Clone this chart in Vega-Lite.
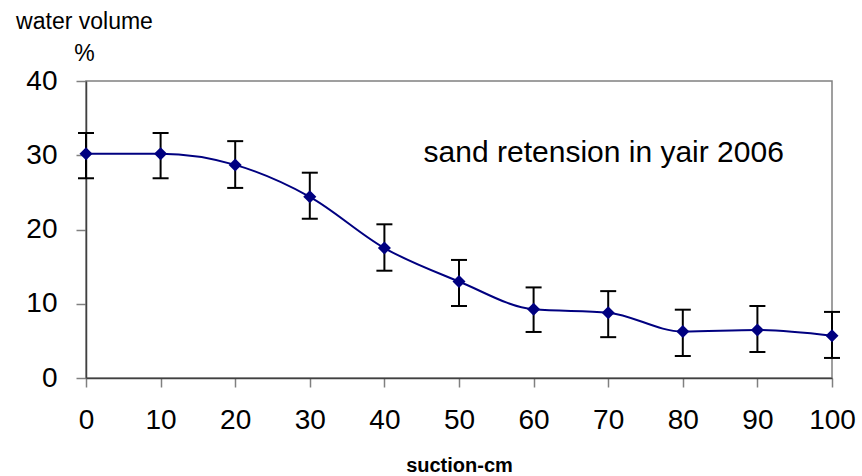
{
  "$schema": "https://vega.github.io/schema/vega-lite/v6.json",
  "width": 746,
  "height": 297,
  "autosize": {"type": "none"},
  "padding": {"left": 86, "top": 81, "right": 30, "bottom": 98},
  "background": "white",
  "config": {
    "font": "Liberation Sans",
    "view": {"stroke": "#808080", "strokeWidth": 1.5},
    "axis": {
      "grid": false,
      "domainColor": "#404040",
      "domainWidth": 1.5,
      "tickColor": "#808080",
      "tickWidth": 1.5,
      "labelFont": "Liberation Sans",
      "labelColor": "black",
      "titleColor": "black"
    }
  },
  "datasets": {
    "retention": [
      {"suction": 0, "water": 30.2, "lo": 26.9, "hi": 33.0},
      {"suction": 10, "water": 30.2, "lo": 26.9, "hi": 33.0},
      {"suction": 20, "water": 28.7, "lo": 25.6, "hi": 31.9},
      {"suction": 30, "water": 24.4, "lo": 21.45, "hi": 27.65},
      {"suction": 40, "water": 17.5, "lo": 14.45, "hi": 20.7},
      {"suction": 50, "water": 13.0, "lo": 9.7, "hi": 15.9},
      {"suction": 60, "water": 9.25, "lo": 6.2, "hi": 12.2},
      {"suction": 70, "water": 8.8, "lo": 5.5, "hi": 11.7},
      {"suction": 80, "water": 6.25, "lo": 2.96, "hi": 9.2},
      {"suction": 90, "water": 6.46, "lo": 3.5, "hi": 9.7},
      {"suction": 100, "water": 5.7, "lo": 2.7, "hi": 8.9}
    ],
    "note": [{"label": "sand retension in yair 2006", "suction": 69.4, "water": 29.1}]
  },
  "layer": [
    {
      "data": {"name": "retention"},
      "mark": {"type": "rule", "color": "black", "strokeWidth": 2},
      "encoding": {
        "x": {
          "field": "suction",
          "type": "quantitative",
          "scale": {"domain": [0, 100], "nice": false},
          "axis": {
            "values": [0, 10, 20, 30, 40, 50, 60, 70, 80, 90, 100],
            "title": "suction-cm",
            "titleFontSize": 20,
            "titleFontWeight": "bold",
            "titlePadding": 21,
            "labelFontSize": 28,
            "labelPadding": 19,
            "tickSize": 9,
            "labelFlush": false
          }
        },
        "y": {
          "field": "lo",
          "type": "quantitative",
          "scale": {"domain": [0, 40], "nice": false},
          "axis": {
            "values": [0, 10, 20, 30, 40],
            "title": ["water volume", "%"],
            "titleAngle": 0,
            "titleAlign": "center",
            "titleBaseline": "alphabetic",
            "titleX": -2,
            "titleY": -53,
            "titleFontSize": 23,
            "titleFontWeight": "normal",
            "titleLineHeight": 32,
            "labelFontSize": 28,
            "labelPadding": 19,
            "tickSize": 10,
            "labelFlush": false
          }
        },
        "y2": {"field": "hi"}
      }
    },
    {
      "data": {"name": "retention"},
      "mark": {"type": "tick", "orient": "horizontal", "color": "black", "size": 16, "thickness": 2, "opacity": 1},
      "encoding": {
        "x": {"field": "suction", "type": "quantitative"},
        "y": {"field": "lo", "type": "quantitative"}
      }
    },
    {
      "data": {"name": "retention"},
      "mark": {"type": "tick", "orient": "horizontal", "color": "black", "size": 16, "thickness": 2, "opacity": 1},
      "encoding": {
        "x": {"field": "suction", "type": "quantitative"},
        "y": {"field": "hi", "type": "quantitative"}
      }
    },
    {
      "data": {"name": "retention"},
      "mark": {"type": "line", "color": "#000080", "strokeWidth": 2, "interpolate": "monotone"},
      "encoding": {
        "x": {"field": "suction", "type": "quantitative"},
        "y": {"field": "water", "type": "quantitative"}
      }
    },
    {
      "data": {"name": "retention"},
      "mark": {"type": "point", "shape": "diamond", "filled": true, "color": "#000080", "size": 170, "opacity": 1},
      "encoding": {
        "x": {"field": "suction", "type": "quantitative"},
        "y": {"field": "water", "type": "quantitative"}
      }
    },
    {
      "data": {"name": "note"},
      "mark": {"type": "text", "fontSize": 30, "align": "center", "baseline": "alphabetic", "color": "black", "font": "Liberation Sans"},
      "encoding": {
        "text": {"field": "label", "type": "nominal"},
        "x": {"field": "suction", "type": "quantitative"},
        "y": {"field": "water", "type": "quantitative"}
      }
    }
  ]
}
